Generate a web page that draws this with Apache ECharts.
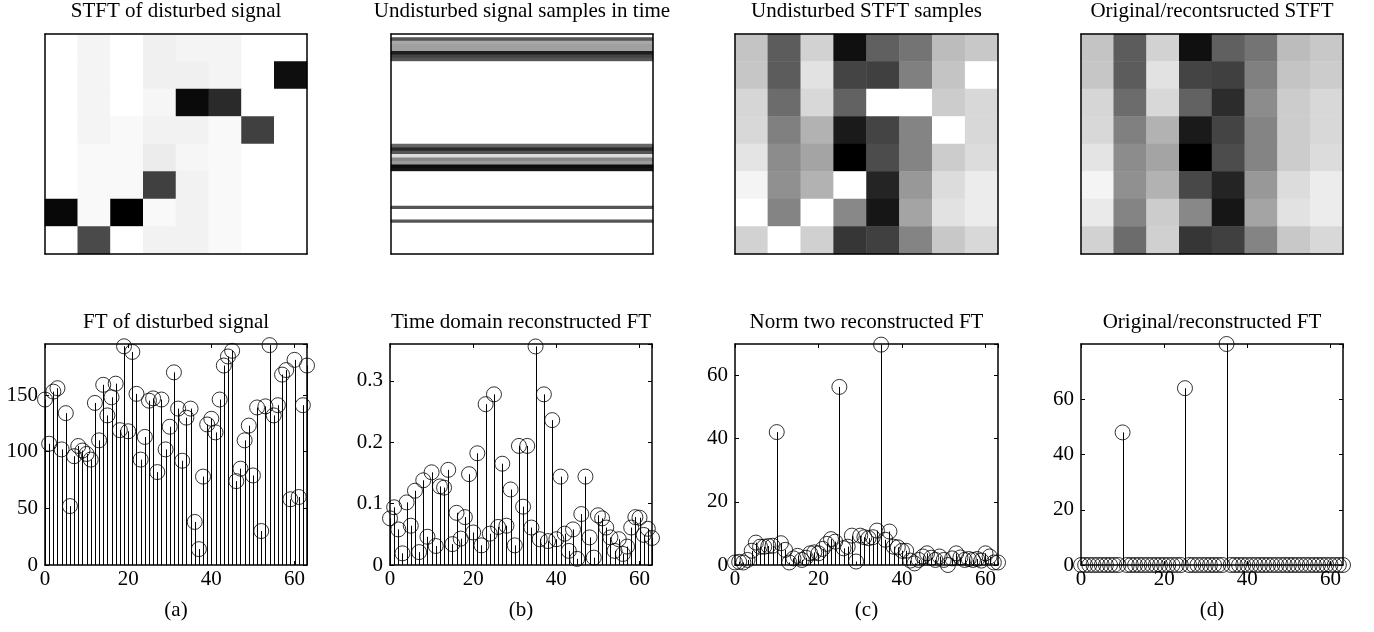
<!DOCTYPE html>
<html>
<head>
<meta charset="utf-8">
<script src="https://cdn.jsdelivr.net/npm/echarts@6/dist/echarts.min.js"></script>
<style>html,body{margin:0;padding:0;background:#fff}#c{width:1374px;height:632px}</style>
</head>
<body>
<div id="c"></div>
<script>
// ---------- DATA ----------
const topTitles = ['STFT of disturbed signal', 'Undisturbed signal samples in time', 'Undisturbed STFT samples', 'Original/recontsructed STFT'];
const bottomTitles = ['FT of disturbed signal', 'Time domain reconstructed FT', 'Norm two reconstructed FT', 'Original/reconstructed FT'];
const panelLabels = ['(a)', '(b)', '(c)', '(d)'];

// gray levels (0 = black, 255 = white), rows top to bottom
const stftDisturbed = [
  [255,244,255,240,244,244,255,255],
  [255,244,255,240,240,244,255,14],
  [255,244,255,246,10,42,255,255],
  [255,244,249,242,242,249,64,255],
  [255,249,249,236,246,249,255,255],
  [255,249,249,64,242,249,255,255],
  [8,249,0,249,242,249,255,255],
  [255,74,255,242,242,249,255,255]
];
const timeSamples = [
  255,85,168,160,160,30,68,85,
  255,255,255,255,255,255,255,255,
  255,255,255,255,255,255,255,255,
  255,255,255,255,255,255,255,255,
  102,42,85,221,136,154,10,20,
  255,255,255,255,255,255,255,255,
  255,255,85,255,255,255,85,255,
  255,255,255,255,255,255,255,255
];
const stftUndisturbed = [
  [196,92,210,16,96,116,188,200],
  [198,92,226,68,64,128,196,255],
  [214,108,216,98,255,255,204,216],
  [216,128,178,26,68,132,255,216],
  [228,140,164,0,76,132,204,220],
  [244,144,178,255,36,152,220,236],
  [255,132,255,136,22,164,226,236],
  [210,255,208,54,64,132,200,216]
];
const stftReconstructed = [
  [196,92,210,16,96,116,188,200],
  [198,92,226,68,64,128,196,204],
  [214,108,216,98,44,140,204,216],
  [216,128,178,26,68,132,204,216],
  [228,140,164,0,76,132,204,220],
  [244,144,178,72,36,152,220,236],
  [234,132,204,136,22,164,226,236],
  [210,108,208,54,64,132,200,216]
];

const ftDisturbed = [146,107,153,156,102,134,52,96,105,101,98,93,143,110,159,132,
  148,160,119,193,118,188,151,93,113,145,147,82,146,102,122,170,
  138,92,130,138,38,14,78,124,129,117,146,176,184,189,
  74,85,110,123,79,139,30,140,194,132,141,168,172,58,181,60,141,176];
const ftTimeDomain = [0.076,0.094,0.058,0.019,0.102,0.064,0.121,0.021,0.138,0.046,0.151,0.031,0.128,0.126,0.155,0.034,
  0.085,0.043,0.078,0.148,0.053,0.182,0.032,0.262,0.051,0.278,0.062,0.165,0.064,0.123,0.032,0.194,
  0.095,0.194,0.061,0.356,0.042,0.278,0.039,0.236,0.042,0.144,0.051,0.023,0.058,0.010,0.083,0.144,
  0.045,0.012,0.081,0.076,0.061,0.045,0.023,0.042,0.018,0.030,0.061,0.078,0.077,0.049,0.059,0.044];
const ftNormTwo = [0.8,1.0,0.8,1.6,4.5,7.1,5.8,5.8,6.0,6.1,42.1,6.9,4.8,0.8,2.1,2.9,
  1.6,2.3,3.7,4.0,3.7,5.1,6.7,8.2,7.4,56.4,5.3,5.8,9.3,1.1,9.3,8.8,
  8.5,8.8,10.9,69.8,8.0,10.6,5.8,5.6,4.5,4.5,1.4,0.5,1.6,2.7,3.7,2.3,
  1.6,2.7,1.6,0.0,2.1,3.7,2.4,1.6,1.9,1.6,1.9,1.4,3.7,2.7,0.8,0.8];
const ftOriginal = [0,0,0,0,0,0,0,0,0,0,48,0,0,0,0,0,
  0,0,0,0,0,0,0,0,0,64,0,0,0,0,0,0,
  0,0,0,80,0,0,0,0,0,0,0,0,0,0,0,0,
  0,0,0,0,0,0,0,0,0,0,0,0,0,0,0,0];

const xTicks = [0, 20, 40, 60];
const yMax = [195, 0.36, 70, 80];
const yInterval = [50, 0.1, 20, 20];

// ---------- LAYOUT ----------
const FONT = 'Liberation Serif';
const FS = 21;
const lefts = [45, 391, 735, 1081];
const widths = [262, 262, 263, 262];
const topGridTop = 34, topGridH = 220;
const botGridTop = 344, botGridH = 221;

const grids = [], xAxes = [], yAxes = [], series = [], titles = [];
const black = '#000';

function frameAxis(gi, pos, extra) {
  return Object.assign({
    gridIndex: gi, position: pos, z: 10,
    axisLine: {show: true, onZero: false, lineStyle: {color: black, width: 1.5}},
    axisTick: {show: false}, axisLabel: {show: false}, splitLine: {show: false}
  }, extra);
}

const heatSets = [stftDisturbed, null, stftUndisturbed, stftReconstructed];
const heatSeriesIdx = [];
for (let i = 0; i < 4; i++) {
  const gi = grids.length;
  grids.push({left: lefts[i], top: topGridTop, width: widths[i], height: topGridH, containLabel: false});
  let nCols, nRows, data = [];
  if (i === 1) {
    nCols = 1; nRows = timeSamples.length;
    timeSamples.forEach((v, r) => data.push([0, r, v]));
  } else {
    const m = heatSets[i];
    nRows = m.length; nCols = m[0].length;
    m.forEach((row, r) => row.forEach((v, c) => data.push([c, r, v])));
  }
  const cats = n => Array.from({length: n}, (_, k) => String(k));
  const xi = xAxes.length;
  xAxes.push(frameAxis(gi, 'bottom', {type: 'category', data: cats(nCols), boundaryGap: true}));
  xAxes.push(frameAxis(gi, 'top', {type: 'category', data: cats(nCols), boundaryGap: true}));
  const yi = yAxes.length;
  yAxes.push(frameAxis(gi, 'left', {type: 'category', data: cats(nRows), inverse: true, boundaryGap: true}));
  yAxes.push(frameAxis(gi, 'right', {type: 'category', data: cats(nRows), inverse: true, boundaryGap: true}));
  heatSeriesIdx.push(series.length);
  series.push({type: 'heatmap', xAxisIndex: xi, yAxisIndex: yi, data: data, silent: true,
    itemStyle: {borderWidth: 0}, emphasis: {disabled: true}});
  titles.push({text: topTitles[i], left: lefts[i] + widths[i] / 2, top: 1, textAlign: 'center', padding: 0,
    textStyle: {fontFamily: FONT, fontSize: FS, fontWeight: 'normal', color: black}});
}

const stemSets = [ftDisturbed, ftTimeDomain, ftNormTwo, ftOriginal];
const botLefts = [45, 390, 735, 1081];
for (let i = 0; i < 4; i++) {
  const gi = grids.length;
  grids.push({left: botLefts[i], top: botGridTop, width: widths[i], height: botGridH, containLabel: false});
  const xi = xAxes.length, yi = yAxes.length;
  const tickIn = {show: true, inside: true, length: 4, lineStyle: {color: black, width: 1}};
  const lblStyle = {fontFamily: FONT, fontSize: FS, color: black};
  xAxes.push(frameAxis(gi, 'bottom', {type: 'value', min: 0, max: stemSets[i].length - 1, interval: 20,
    axisTick: tickIn, axisLabel: Object.assign({show: true, margin: 4, showMaxLabel: false}, lblStyle)}));
  xAxes.push(frameAxis(gi, 'top', {type: 'value', min: 0, max: stemSets[i].length - 1, interval: 20,
    axisTick: tickIn}));
  yAxes.push(frameAxis(gi, 'left', {type: 'value', min: 0, max: yMax[i], interval: yInterval[i],
    axisTick: tickIn, axisLabel: Object.assign({show: true, margin: 7, showMaxLabel: false}, lblStyle)}));
  yAxes.push(frameAxis(gi, 'right', {type: 'value', min: 0, max: yMax[i], interval: yInterval[i],
    axisTick: tickIn}));
  const pts = stemSets[i].map((v, k) => [k, v]);
  series.push({type: 'custom', xAxisIndex: xi, yAxisIndex: yi, data: pts, silent: true, clip: false, z: 3,
    renderItem: function (params, api) {
      const p0 = api.coord([api.value(0), 0]);
      const p1 = api.coord([api.value(0), api.value(1)]);
      const x = Math.round(p0[0]) + 0.5;
      return {type: 'line', shape: {x1: x, y1: p0[1], x2: x, y2: p1[1]},
        style: {stroke: black, lineWidth: 1}};
    }});
  series.push({type: 'scatter', xAxisIndex: xi, yAxisIndex: yi, data: pts, silent: true, clip: false, z: 4,
    symbol: 'circle', symbolSize: 15,
    itemStyle: {color: 'rgba(0,0,0,0)', borderColor: black, borderWidth: 1},
    emphasis: {disabled: true}});
  const cx = botLefts[i] + widths[i] / 2;
  titles.push({text: bottomTitles[i], left: cx, top: 312, textAlign: 'center', padding: 0,
    textStyle: {fontFamily: FONT, fontSize: FS, fontWeight: 'normal', color: black}});
  titles.push({text: panelLabels[i], left: cx, top: 600, textAlign: 'center', padding: 0,
    textStyle: {fontFamily: FONT, fontSize: FS, fontWeight: 'normal', color: black}});
}

const chart = echarts.init(document.getElementById('c'), null, {renderer: 'canvas'});
chart.setOption({
  animation: false,
  backgroundColor: '#fff',
  title: titles,
  grid: grids,
  xAxis: xAxes,
  yAxis: yAxes,
  visualMap: [{type: 'continuous', show: false, min: 0, max: 255, dimension: 2,
    seriesIndex: heatSeriesIdx, inRange: {color: ['#000000', '#ffffff']}}],
  series: series
});
</script>
</body>
</html>
